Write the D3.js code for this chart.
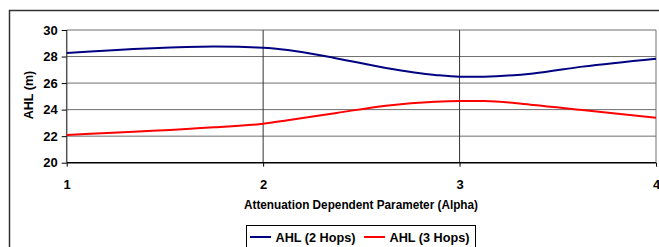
<!DOCTYPE html>
<html>
<head>
<meta charset="utf-8">
<script src="https://cdn.jsdelivr.net/npm/d3@7"></script>
<style>
  html, body { margin: 0; padding: 0; background: #fff; }
  svg { display: block; font-family: Arial, "Liberation Sans", sans-serif; font-weight: bold; }
</style>
</head>
<body>
<svg id="chart" width="659" height="247"></svg>
<script>
const alpha = [1, 1.75, 2, 2.125, 2.375, 2.625, 2.875, 3, 3.125, 3.375, 3.625, 4];
const ahl2Hops = [28.27, 28.76, 28.67, 28.5, 27.86, 27.14, 26.61, 26.48, 26.48, 26.73, 27.24, 27.84];
const ahl3Hops = [22.09, 22.67, 22.94, 23.2, 23.75, 24.3, 24.6, 24.65, 24.65, 24.35, 23.97, 23.39];
const xTicks = [1, 2, 3, 4];
const yTicks = [20, 22, 24, 26, 28, 30];
const seriesNames = ["AHL (2 Hops)", "AHL (3 Hops)"];
const seriesColors = ["#000080", "#FF0000"];

const svg = d3.select("#chart");
// outer frame (extends beyond the view at right/bottom)
svg.append("rect").attr("x", 9.5).attr("y", 10.5).attr("width", 700).attr("height", 300)
  .attr("fill", "none").attr("stroke", "#333").attr("stroke-width", 1.5);

const x = d3.scaleLinear().domain([1, 4]).range([66.7, 656]);
const y = d3.scaleLinear().domain([20, 30]).range([162.7, 30]);

// horizontal gridlines
svg.append("g").selectAll("line").data(yTicks.filter(d => d > 20)).join("line")
  .attr("x1", x(1)).attr("x2", x(4)).attr("y1", d => y(d)).attr("y2", d => y(d))
  .attr("stroke", "#6e6e6e").attr("stroke-width", 1);
// vertical gridlines
svg.append("g").selectAll("line").data(xTicks.filter(d => d > 1)).join("line")
  .attr("x1", d => x(d)).attr("x2", d => x(d)).attr("y1", y(30)).attr("y2", y(20))
  .attr("stroke", d => d === 4 ? "#6e6e6e" : "#333").attr("stroke-width", 1);

// axes
const yAxis = d3.axisLeft(y).tickValues(yTicks).tickSize(5).tickPadding(4).tickFormat(d3.format("d"));
const gy = svg.append("g").attr("transform", `translate(${x(1)},0)`).call(yAxis);
const xAxis = d3.axisBottom(x).tickValues(xTicks).tickSize(4).tickPadding(13).tickFormat(d3.format("d"));
const gx = svg.append("g").attr("transform", `translate(0,${y(20)})`).call(xAxis);
[gy, gx].forEach(g => {
  g.select(".domain").attr("stroke", "#000").attr("stroke-width", 1.5);
  g.selectAll(".tick line").attr("stroke", "#000");
  g.selectAll("text").attr("font-size", 13).attr("font-weight", "bold")
    .attr("font-family", "Arial, 'Liberation Sans', sans-serif").attr("fill", "#000");
});
gy.select(".domain").attr("d", `M0,${y(20)}V${y(30)}`).attr("stroke", "#555");
gx.select(".domain").attr("d", `M${x(1)},0H${x(4)}`);

// lines
const line = d3.line().x(d => x(d[0])).y(d => y(d[1])).curve(d3.curveMonotoneX);
[ahl2Hops, ahl3Hops].forEach((vals, i) => {
  svg.append("path").datum(alpha.map((a, j) => [a, vals[j]]))
    .attr("d", line).attr("fill", "none")
    .attr("stroke", seriesColors[i]).attr("stroke-width", 2);
});

// axis titles
svg.append("text").attr("transform", `translate(33,95) rotate(-90)`)
  .attr("text-anchor", "middle").attr("font-size", 12.5).text("AHL (m)");
svg.append("text").attr("x", 361).attr("y", 209)
  .attr("text-anchor", "middle").attr("font-size", 12)
  .attr("textLength", 234).attr("lengthAdjust", "spacingAndGlyphs")
  .text("Attenuation Dependent Parameter (Alpha)");

// legend
const lg = svg.append("g");
lg.append("rect").attr("x", 246.5).attr("y", 225.5).attr("width", 229).attr("height", 22)
  .attr("fill", "#fff").attr("stroke", "#000").attr("stroke-width", 1);
const legX = [250, 364];
seriesNames.forEach((n, i) => {
  lg.append("line").attr("x1", legX[i]).attr("x2", legX[i] + 21).attr("y1", 237).attr("y2", 237)
    .attr("stroke", seriesColors[i]).attr("stroke-width", 2);
  lg.append("text").attr("x", legX[i] + 25.5).attr("y", 241.5).attr("font-size", 12.5)
    .attr("textLength", 80).attr("lengthAdjust", "spacingAndGlyphs").text(n);
});
</script>
</body>
</html>
